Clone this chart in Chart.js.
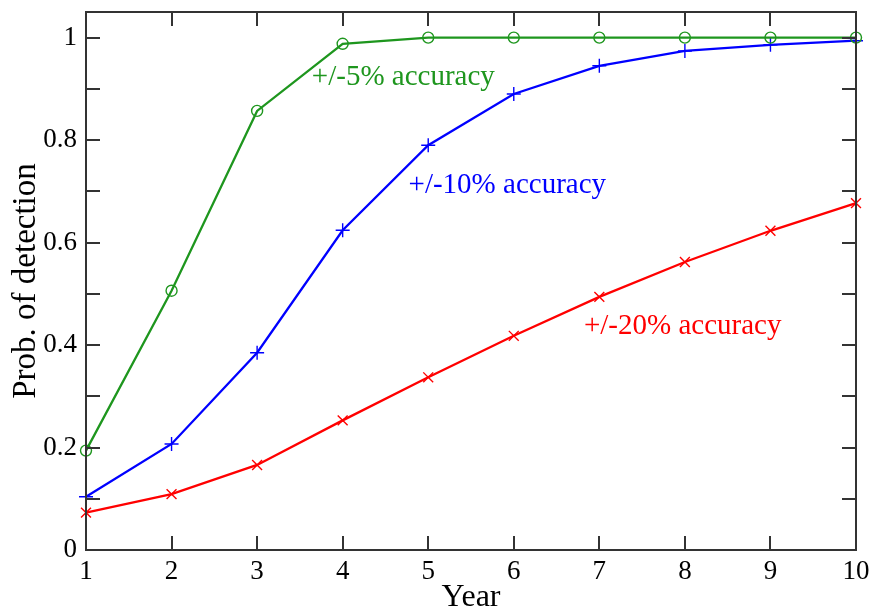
<!DOCTYPE html>
<html>
<head>
<meta charset="utf-8">
<script src="https://cdn.jsdelivr.net/npm/chart.js@4.4.1/dist/chart.umd.min.js"></script>
<style>
  html, body { margin: 0; padding: 0; background: #fff; }
  #wrap { width: 869px; height: 607px; position: relative; }
</style>
</head>
<body>
<div id="wrap"><canvas id="detChart" width="869" height="607"></canvas></div>
<script>
// 연도별 검출 확률
var YEARS = [1, 2, 3, 4, 5, 6, 7, 8, 9, 10];
var ACC5  = [0.194, 0.506, 0.857, 0.988, 1.0, 1.0, 1.0, 1.0, 1.0, 1.0];
var ACC10 = [0.104, 0.207, 0.385, 0.624, 0.790, 0.890, 0.945, 0.974, 0.986, 0.994];
var ACC20 = [0.073, 0.109, 0.166, 0.253, 0.337, 0.418, 0.494, 0.562, 0.623, 0.677];

var SERIES_NAMES = ['+/-5% accuracy', '+/-10% accuracy', '+/-20% accuracy'];

var Y_TICKS = [0, 0.2, 0.4, 0.6, 0.8, 1];
var Y_TICK_LABELS = ['0', '0.2', '0.4', '0.6', '0.8', '1'];
var Y_MINOR_TICKS = [0.1, 0.3, 0.5, 0.7, 0.9];
var X_TICK_LABELS = ['1', '2', '3', '4', '5', '6', '7', '8', '9', '10'];

var GREEN = '#1e961e', BLUE = '#0000ff', RED = '#ff0000';
var SERIF = '"Liberation Serif", "DejaVu Serif", serif';

function toPoints(ys) {
    return ys.map(function(v, i) { return { x: YEARS[i], y: v }; });
}

// 곡선 옆 라벨 위치 (데이터 좌표)
var LABEL_SPOTS = [
    { text: SERIES_NAMES[0], x: 3.64, y: 0.908, color: GREEN },
    { text: SERIES_NAMES[1], x: 4.77, y: 0.697, color: BLUE },
    { text: SERIES_NAMES[2], x: 6.82, y: 0.422, color: RED }
];

// 테두리 + 안쪽 눈금 + 곡선 라벨
var frameTicks = {
    id: 'frameTicks',
    afterDatasetsDraw: function(chart) {
        var ctx = chart.ctx, a = chart.chartArea;
        var xs = chart.scales.x, ys = chart.scales.y;
        var tl = 14;
        ctx.save();
        ctx.strokeStyle = '#333';
        ctx.lineWidth = 2;
        ctx.strokeRect(a.left, a.top, a.right - a.left, a.bottom - a.top);
        ctx.beginPath();
        YEARS.forEach(function(v) {
            var px = Math.round(xs.getPixelForValue(v));
            ctx.moveTo(px, a.bottom); ctx.lineTo(px, a.bottom - tl);
            ctx.moveTo(px, a.top); ctx.lineTo(px, a.top + tl);
        });
        Y_TICKS.concat(Y_MINOR_TICKS).forEach(function(v) {
            var py = Math.round(ys.getPixelForValue(v));
            ctx.moveTo(a.left, py); ctx.lineTo(a.left + tl, py);
            ctx.moveTo(a.right, py); ctx.lineTo(a.right - tl, py);
        });
        ctx.stroke();

        ctx.font = '29px ' + SERIF;
        ctx.textAlign = 'left';
        ctx.textBaseline = 'alphabetic';
        LABEL_SPOTS.forEach(function(l) {
            ctx.fillStyle = l.color;
            ctx.fillText(l.text, xs.getPixelForValue(l.x), ys.getPixelForValue(l.y));
        });
        ctx.restore();
    }
};

function makeSet(label, ys, color, style, radius) {
    return {
        label: label,
        data: toPoints(ys),
        borderColor: color,
        backgroundColor: 'rgba(0,0,0,0)',
        borderWidth: 2.3,
        pointStyle: style,
        pointRadius: radius,
        pointBorderWidth: 1.4,
        pointBorderColor: color,
        pointBackgroundColor: 'rgba(0,0,0,0)',
        tension: 0,
        clip: false
    };
}

new Chart(document.getElementById('detChart'), {
    type: 'line',
    data: {
        datasets: [
            makeSet(SERIES_NAMES[0], ACC5, GREEN, 'circle', 5.5),
            makeSet(SERIES_NAMES[1], ACC10, BLUE, 'cross', 7),
            makeSet(SERIES_NAMES[2], ACC20, RED, 'crossRot', 7)
        ]
    },
    options: {
        responsive: false,
        animation: false,
        events: [],
        layout: { padding: { top: 12, right: 13, left: 0, bottom: 0 } },
        plugins: { legend: { display: false }, tooltip: { enabled: false } },
        scales: {
            x: {
                type: 'linear',
                min: 1, max: 10,
                grid: { display: false, drawTicks: false },
                border: { display: false },
                afterBuildTicks: function(s) { s.ticks = YEARS.map(function(v) { return { value: v }; }); },
                afterFit: function(s) { s.height = 57; s.paddingLeft = 0; s.paddingRight = 0; },
                ticks: {
                    color: '#000',
                    padding: 6,
                    maxRotation: 0,
                    autoSkip: false,
                    font: { family: SERIF, size: 27 },
                    callback: function(v, i) { return X_TICK_LABELS[i]; }
                },
                title: {
                    display: true,
                    text: 'Year',
                    color: '#000',
                    font: { family: SERIF, size: 32, lineHeight: 1.0 },
                    padding: { top: 0, bottom: -7 }
                }
            },
            y: {
                min: 0, max: 1.05,
                grid: { display: false, drawTicks: false },
                border: { display: false },
                afterBuildTicks: function(s) { s.ticks = Y_TICKS.map(function(v) { return { value: v }; }); },
                afterFit: function(s) { s.width = 86; s.paddingTop = 0; s.paddingBottom = 0; },
                ticks: {
                    color: '#000',
                    padding: 9,
                    font: { family: SERIF, size: 27 },
                    callback: function(v, i) { return Y_TICK_LABELS[i]; }
                },
                title: {
                    display: true,
                    text: 'Prob. of detection',
                    color: '#000',
                    font: { family: SERIF, size: 33, lineHeight: 1.0 },
                    padding: { top: 10, bottom: 0 }
                }
            }
        }
    },
    plugins: [frameTicks]
});
</script>
</body>
</html>
